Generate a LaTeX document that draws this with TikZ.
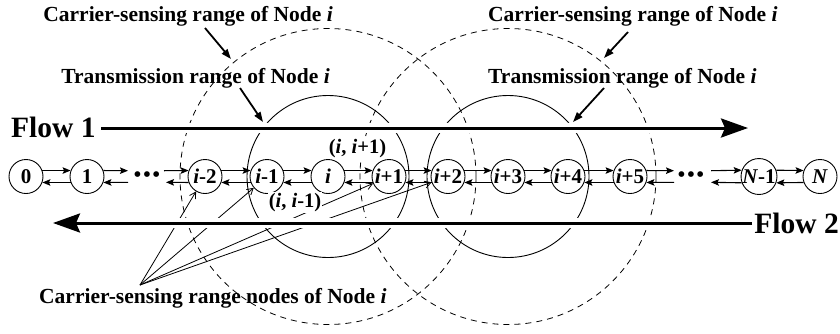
\documentclass[tikz,border=0pt]{standalone}
\usepackage{fontspec}
\setmainfont{Liberation Serif}
\usetikzlibrary{arrows.meta,backgrounds}
\begin{document}
\begin{tikzpicture}[x=1pt,y=-1pt,
  nd/.style={circle,draw,line width=0.9pt,fill=white,minimum size=34pt,inner sep=0pt,font=\fontsize{21}{22}\selectfont\bfseries},
  dotsn/.style={inner sep=0pt,font=\fontsize{21}{21}\selectfont\bfseries},
  lbl/.style={font=\fontsize{21.5}{24}\selectfont\bfseries,inner sep=0pt},
  flowtxt/.style={font=\fontsize{29.5}{32}\selectfont\bfseries,inner sep=0pt},
  pair/.style={font=\fontsize{20.5}{22}\selectfont\bfseries,fill=white,inner sep=1pt},
  link/.style={line width=1.1pt,-{Stealth[length=8pt,width=6.5pt,inset=1.5pt]}},
  csr/.style={line width=0.8pt,dash pattern=on 6pt off 5pt},
  txr/.style={line width=0.9pt},
  callout/.style={line width=1.8pt,-{Triangle[length=10pt,width=7pt]}},
  fan/.style={line width=0.8pt,-{Straight Barb[length=6pt,width=7pt]}},
  flow/.style={line width=3pt,-{Stealth[length=27pt,width=19pt,inset=4pt]}},
  halo/.style={line width=10pt,white},
]
\useasboundingbox (0,0) rectangle (840,333);

% node row
\node[nd] (n0)  at (26,176.5)  {0};
\node[nd] (n1)  at (87,176.5)  {1};
\node[dotsn] (d1) at (147,176.5) {•\hspace{2pt}•\hspace{2pt}•};
\node[nd] (im2) at (205,176.5) {\textit{i}-2};
\node[nd] (im1) at (267,176.5) {\textit{i}-1};
\node[nd] (ni)  at (328,176.5) {\textit{i}};
\node[nd] (ip1) at (389,176.5) {\textit{i}+1};
\node[nd] (ip2) at (448,176.5) {\textit{i}+2};
\node[nd] (ip3) at (508,176.5) {\textit{i}+3};
\node[nd] (ip4) at (568,176.5) {\textit{i}+4};
\node[nd] (ip5) at (630,176.5) {\textit{i}+5};
\node[dotsn] (d2) at (691,176.5) {•\hspace{2pt}•\hspace{2pt}•};
\node[nd] (nm1) at (759,176.5) {\textit{N}-1};
\node[nd] (nN)  at (820,176.5) {\textit{N}};

% coordinates at the dots
\coordinate (d1wu) at (128,170.7);
\coordinate (d1wl) at (128,182.3);
\coordinate (d1eu) at (164,170.7);
\coordinate (d1el) at (166,182.3);
\coordinate (d2wu) at (674,170.7);
\coordinate (d2wl) at (674,182.3);
\coordinate (d2eu) at (711,170.7);
\coordinate (d2el) at (711,182.3);

% links
\foreach \a/\b in {n0/n1,im2/im1,im1/ni,ni/ip1,ip1/ip2,ip2/ip3,ip3/ip4,ip4/ip5,nm1/nN}{
  \draw[link] (\a.20) -- (\b.160);
  \draw[link] (\b.200) -- (\a.340);
}
\draw[link] (n1.20) -- (d1wu);
\draw[link] (d1wl) -- (n1.340);
\draw[link] (d1eu) -- (im2.160);
\draw[link] (im2.200) -- (d1el);
\draw[link] (ip5.20) -- (d2wu);
\draw[link] (d2wl) -- (ip5.340);
\draw[link] (d2eu) -- (nm1.160);
\draw[link] (nm1.200) -- (d2el);

% pair labels
\node[pair] (p1) at (357.5,149) {(\textit{i}, \textit{i}+1)};
\node[pair] (p2) at (295,202.5) {(\textit{i}, \textit{i}-1)};

% text labels
\node[lbl,anchor=base east] (lcs) at (333,21) {Carrier-sensing range of Node \textit{i}};
\node[lbl,anchor=base east] (ltr) at (330,83) {Transmission range of Node \textit{i}};
\node[lbl,anchor=base west] (rcs) at (488,21) {Carrier-sensing range of Node \textit{i}};
\node[lbl,anchor=base west] (rtr) at (488,83) {Transmission range of Node \textit{i}};
\node[lbl,anchor=base west] (bcs) at (39,303) {Carrier-sensing range nodes of Node \textit{i}};
\node[flowtxt,anchor=base west] (ft1) at (11,137) {Flow 1};
\node[flowtxt,anchor=base east] (ft2) at (839,233) {Flow 2};

% callouts
\coordinate (c1s) at (205,28);  \coordinate (c1t) at (231,59);
\coordinate (t1s) at (240,88);  \coordinate (t1t) at (263,122);
\coordinate (c2s) at (628,32);  \coordinate (c2t) at (604,58);
\coordinate (t2s) at (604,88);  \coordinate (t2t) at (573,122);
\draw[callout] (c1s) -- (c1t);
\draw[callout] (t1s) -- (t1t);
\draw[callout] (c2s) -- (c2t);
\draw[callout] (t2s) -- (t2t);

% flows
\coordinate (f1s) at (101,128); \coordinate (f1e) at (748,128);
\coordinate (f2s) at (752,223); \coordinate (f2e) at (53,223);
\coordinate (fo) at (140,285);

\begin{pgfonlayer}{background}
  \draw[csr] (ni) circle[radius=148pt];
  \draw[csr] (ip3) circle[radius=148pt];
  \draw[txr] (ni) circle[radius=81pt];
  \draw[txr] (ip3) circle[radius=81pt];
  \draw[fan] (fo) -- (im2);
  \draw[fan] (fo) -- (im1);
  \draw[fan] (fo) -- (ip1);
  \draw[fan] (fo) -- (ip2);
  \draw[halo] (f1s) -- (724,128);
  \draw[halo] (f2s) -- (78,223);
  \draw[flow] (f1s) -- (f1e);
  \draw[flow] (f2s) -- (f2e);
\end{pgfonlayer}
\end{tikzpicture}
\end{document}
